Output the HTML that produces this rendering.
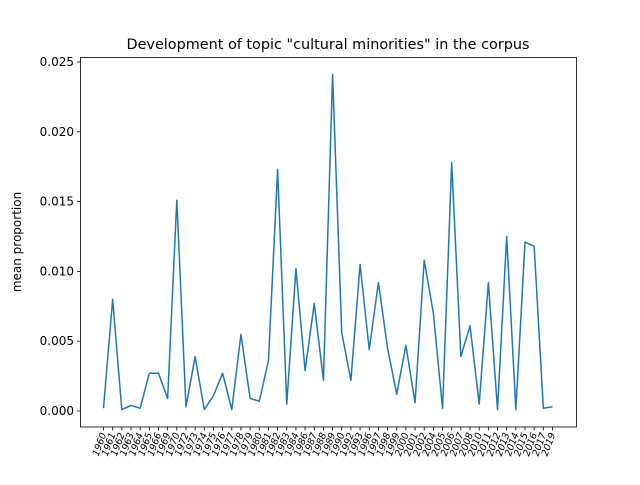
<!DOCTYPE html>
<html><head><meta charset="utf-8"><style>
body{margin:0;background:#fff;font-family:"Liberation Sans","DejaVu Sans",sans-serif}
svg text{font-family:"DejaVu Sans","Liberation Sans",sans-serif;fill:#000}
</style></head><body>
<svg id="c" width="640" height="480" viewBox="0 0 640 480">
<rect x="0" y="0" width="640" height="480" fill="#fff"/>
<text x="328" y="49" text-anchor="middle" font-size="14.4">Development of topic "cultural minorities" in the corpus</text>
<text transform="translate(21,242) rotate(-90)" text-anchor="middle" font-size="12">mean proportion</text>
<g id="yt"></g>
<g id="xt"></g>
<path id="ln" fill="none" stroke="#1f77b4" stroke-width="1.5" stroke-linejoin="round"/>
<rect x="80.5" y="57.5" width="496" height="369.5" fill="none" stroke="#000" stroke-width="0.8"/>
</svg>
<script>
const years=["1960","1961","1962","1963","1964","1965","1966","1969","1970","1972","1973","1974","1975","1976","1977","1978","1979","1980","1981","1982","1983","1984","1986","1987","1988","1989","1990","1992","1993","1996","1997","1998","1999","2000","2001","2002","2004","2005","2006","2007","2008","2010","2011","2012","2013","2014","2015","2016","2017","2019"];
const values=[0.0002,0.0080,0.0001,0.0004,0.0002,0.0027,0.0027,0.0009,0.0151,0.0003,0.0039,0.0001,0.0011,0.0027,0.0001,0.0055,0.0009,0.0007,0.0036,0.0173,0.0005,0.0102,0.0029,0.0077,0.0022,0.0241,0.0056,0.0022,0.0105,0.0044,0.0092,0.0045,0.0012,0.0047,0.0006,0.0108,0.0070,0.0002,0.0178,0.0039,0.0061,0.0005,0.0092,0.0001,0.0125,0.0001,0.0121,0.0118,0.0002,0.0003];
const yTicks=[0,0.005,0.01,0.015,0.02,0.025];
const yLabels=["0.000","0.005","0.010","0.015","0.020","0.025"];
const NS="http://www.w3.org/2000/svg";
const x0=103.5,x1=552.5;
function xs(i){return x0+(x1-x0)*i/(years.length-1);}
function ys(v){return 411-v*13960;}
const yt=document.getElementById('yt'),xt=document.getElementById('xt');
yTicks.forEach((t,i)=>{
  const l=document.createElementNS(NS,'line');
  l.setAttribute('x1',77);l.setAttribute('x2',80.5);l.setAttribute('y1',ys(t));l.setAttribute('y2',ys(t));l.setAttribute('stroke','#000');l.setAttribute('stroke-width','0.8');
  
  
  yt.appendChild(l);
  const tx=document.createElementNS(NS,'text');
  tx.setAttribute('x',74);tx.setAttribute('y',ys(t)+4);tx.setAttribute('text-anchor','end');tx.setAttribute('font-size','12');
  tx.textContent=yLabels[i];
  
  
  yt.appendChild(tx);
});
years.forEach((y,i)=>{
  const x=xs(i);
  const l=document.createElementNS(NS,'line');
  l.setAttribute('x1',x);l.setAttribute('x2',x);l.setAttribute('y1',427);l.setAttribute('y2',430.5);l.setAttribute('stroke','#000');l.setAttribute('stroke-width','0.8');
  
  
  xt.appendChild(l);
  const tx=document.createElementNS(NS,'text');
  tx.setAttribute('transform','translate('+(x+3)+',434) rotate(-70)');
  tx.setAttribute('text-anchor','end');tx.setAttribute('font-size','9.5');tx.setAttribute('font-style','italic');
  tx.textContent=y;
  
  
  xt.appendChild(tx);
});
document.getElementById('ln').setAttribute('d',values.map((v,i)=>(i?'L':'M')+xs(i).toFixed(2)+' '+ys(v).toFixed(2)).join(' '));
</script>
</body></html>
